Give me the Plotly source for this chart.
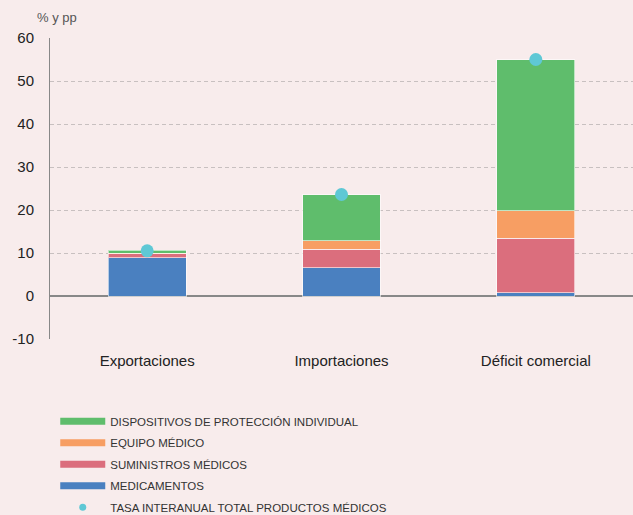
import plotly.graph_objects as go

categorias = ["Exportaciones", "Importaciones", "Déficit comercial"]
medicamentos = [8.9, 6.6, 0.8]
suministros = [0.9, 4.3, 12.6]
equipo = [0.1, 1.9, 6.4]
dispositivos = [0.7, 10.8, 35.1]
tasa_total = [10.5, 23.6, 55.0]

ticks_y = [-10, 0, 10, 20, 30, 40, 50, 60]
etiquetas_y = ["-10", "0", "10", "20", "30", "40", "50", "60"]

cor_fundo = "#F8ECEC"
series = [
    ("MEDICAMENTOS", medicamentos, "#4A80C0"),
    ("SUMINISTROS MÉDICOS", suministros, "#DB6E7D"),
    ("EQUIPO MÉDICO", equipo, "#F79E63"),
    ("DISPOSITIVOS DE PROTECCIÓN INDIVIDUAL", dispositivos, "#5FBD6C"),
]

fig = go.Figure()
for nombre, valores, cor in series:
    fig.add_trace(go.Bar(
        x=categorias, y=valores, marker_color=cor,
        marker_line=dict(color="rgba(255,255,255,0.6)", width=1),
        width=0.4, showlegend=False, name=nombre,
    ))

fig.add_trace(go.Scatter(
    x=categorias, y=tasa_total, mode="markers", showlegend=False,
    name="TASA INTERANUAL TOTAL PRODUCTOS MÉDICOS",
    marker=dict(color="#5FC8D5", size=13),
))

# entradas de leyenda (barras anchas y punto pequeño)
for nombre, valores, cor in reversed(series):
    fig.add_trace(go.Scatter(
        x=[None], y=[None], mode="lines", name=nombre, legendgroup=nombre,
        line=dict(color=cor, width=7),
    ))
fig.add_trace(go.Scatter(
    x=[None], y=[None], mode="markers", legendgroup="tasa",
    name="TASA INTERANUAL TOTAL PRODUCTOS MÉDICOS",
    marker=dict(color="#5FC8D5", size=7),
))

fig.update_layout(
    barmode="stack",
    width=633, height=515,
    plot_bgcolor=cor_fundo,
    paper_bgcolor=cor_fundo,
    margin=dict(l=50, r=0, t=38, b=176, autoexpand=False),
    font=dict(family="Liberation Sans, Arial, sans-serif", color="#222222", size=15),
    legend=dict(
        orientation="v", x=0.009, y=-0.225, xanchor="left", yanchor="top",
        font=dict(size=11.5, color="#333333"),
        itemwidth=45, tracegroupgap=2.5, bgcolor="rgba(0,0,0,0)",
        traceorder="grouped",
    ),
    annotations=[dict(
        text="% y pp", xref="paper", yref="paper", x=-0.025, y=1.035,
        xanchor="left", yanchor="bottom", showarrow=False,
        font=dict(size=13, color="#555555"),
    )],
)
fig.update_yaxes(
    range=[-10, 60], tickvals=ticks_y, ticktext=etiquetas_y,
    showgrid=True, gridcolor="#C8C0C0",
    griddash="4px,3px", gridwidth=1, showline=True, linecolor="#888888",
    zeroline=True, zerolinecolor="#888888", zerolinewidth=1.5,
    ticks="", tickfont=dict(size=15), ticklabelstandoff=12,
)
fig.update_xaxes(
    range=[-0.5, 2.5], showgrid=False, showline=False, ticks="",
    tickfont=dict(size=15), ticklabelstandoff=11,
)

fig.write_html("out.html", config={"displayModeBar": False},
               post_script="document.body.style.margin='0';")
